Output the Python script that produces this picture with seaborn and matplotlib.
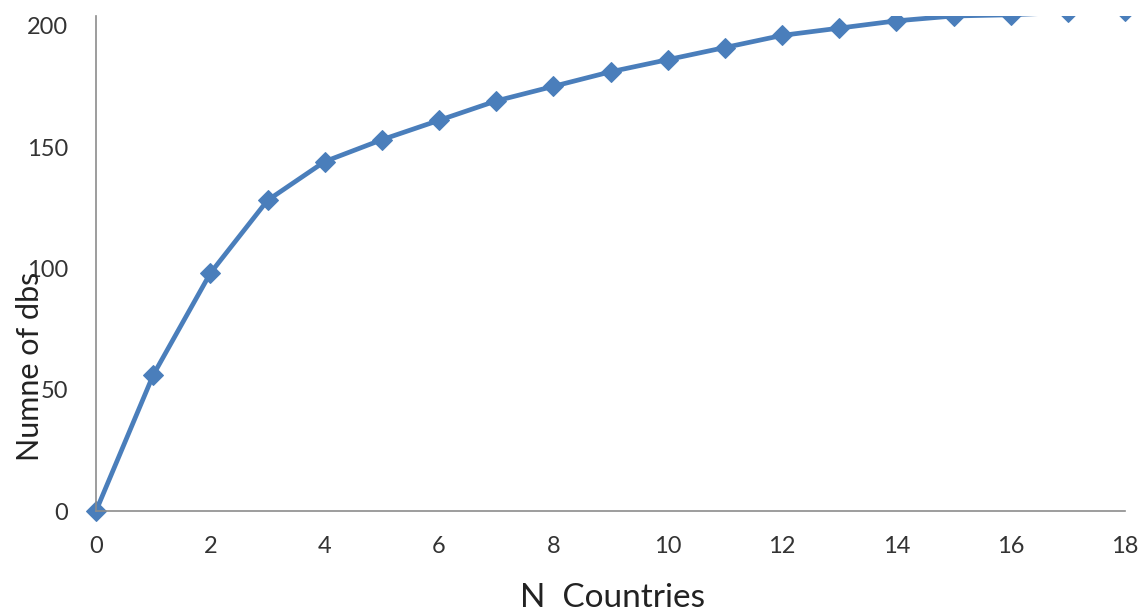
import matplotlib
matplotlib.use("Agg")
import matplotlib.pyplot as plt
from matplotlib.patches import Rectangle
import seaborn as sns
import pandas as pd

n_countries = [0, 1, 2, 3, 4, 5, 6, 7, 8, 9, 10, 11, 12, 13, 14, 15, 16, 17, 18]
n_dbs = [0, 56, 98, 128, 144, 153, 161, 169, 175, 181, 186, 191, 196, 199, 202, 204, 204.5, 205.5, 206]
x_ticks = [0, 2, 4, 6, 8, 10, 12, 14, 16, 18]
y_ticks = [0, 50, 100, 150, 200]

sns.set_theme(style="white")
plt.rcParams['font.family'] = ['Lato', 'DejaVu Sans']

df = pd.DataFrame({"x": n_countries, "y": n_dbs})

fig = plt.figure(figsize=(11.45, 6.07), dpi=100)
ax = fig.add_axes([96 / 1145, 96 / 607, 1029 / 1145, 495 / 607])

sns.lineplot(data=df, x="x", y="y", ax=ax, color="#4A7EBB", linewidth=3.4,
             marker="D", markersize=10, markeredgecolor="#4A7EBB")

# clip only at the top of the plot area (as in the reference)
clip = Rectangle((-0.05, -0.05), 1.1, 1.05, transform=ax.transAxes,
                 facecolor="none", edgecolor="none")
for ln in ax.lines:
    ln.set_clip_path(clip)

ax.set_xlim(0, 18)
ax.set_ylim(0, 204)
ax.set_xticks(x_ticks)
ax.set_yticks(y_ticks)
ax.tick_params(axis="both", which="major", direction="out", length=6, width=1,
               color="#A0A0A0", labelsize=17, labelcolor="#333333")
ax.tick_params(axis="x", pad=12)
ax.tick_params(axis="y", pad=14)

for s in ["top", "right"]:
    ax.spines[s].set_visible(False)
for s in ["left", "bottom"]:
    ax.spines[s].set_color("#8C8C8C")
    ax.spines[s].set_linewidth(1.2)

ax.set_xlabel("N  Countries", fontsize=24, color="#222222")
ax.set_ylabel("Numne of dbs", fontsize=22, color="#222222")
ax.xaxis.set_label_coords(0.5015, -0.145)
ax.xaxis.label.set_va("top")
ax.yaxis.set_label_coords(-0.064, 0.292)
ax.yaxis.label.set_va("center")

fig.savefig("out.png", dpi=100)
